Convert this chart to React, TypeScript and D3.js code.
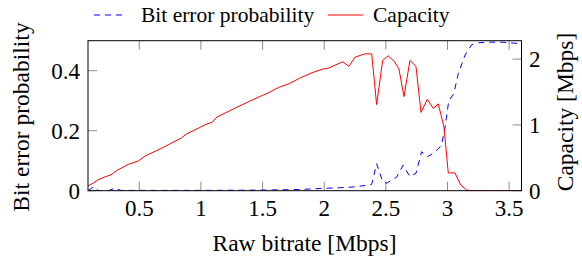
import React from "react";
import * as d3 from "d3";

const capX = [0.084, 0.13, 0.16, 0.22, 0.27, 0.32, 0.41, 0.49, 0.55, 0.68, 0.84, 0.88, 0.98, 1.03, 1.09, 1.13, 1.26, 1.40, 1.56, 1.63, 1.72, 1.80, 1.91, 1.99, 2.03, 2.15, 2.20, 2.25, 2.33, 2.385, 2.425, 2.474, 2.519, 2.566, 2.606, 2.647, 2.695, 2.744, 2.785, 2.836, 2.885, 2.925, 2.971, 3.006, 3.06, 3.107, 3.155, 3.2, 3.6];
const capY = [0.07, 0.12, 0.16, 0.21, 0.24, 0.31, 0.40, 0.45, 0.53, 0.645, 0.80, 0.86, 0.95, 1.0, 1.04, 1.12, 1.24, 1.365, 1.50, 1.57, 1.63, 1.71, 1.80, 1.85, 1.86, 1.96, 1.89, 2.03, 2.08, 2.08, 1.31, 1.98, 2.05, 1.97, 1.85, 1.43, 1.98, 1.89, 1.19, 1.39, 1.25, 1.32, 0.97, 0.27, 0.27, 0.087, 0.01, 0, 0];

const berX = [0.084, 0.13, 0.17, 0.25, 0.30, 0.35, 0.5, 1.0, 1.5, 1.8, 2.0, 2.13, 2.26, 2.385, 2.425, 2.474, 2.506, 2.587, 2.64, 2.695, 2.744, 2.79, 2.836, 2.885, 2.925, 2.95, 2.98, 3.01, 3.05, 3.087, 3.142, 3.196, 3.25, 3.33, 3.45, 3.6];
const berY = [0, 0.013, 0.0, 0.0, 0.008, 0.001, 0.001, 0.001, 0.002, 0.004, 0.008, 0.01, 0.013, 0.021, 0.09, 0.03, 0.025, 0.045, 0.085, 0.047, 0.058, 0.13, 0.113, 0.125, 0.14, 0.15, 0.21, 0.30, 0.322, 0.39, 0.452, 0.487, 0.493, 0.495, 0.495, 0.49];

const xTicks = [0.5, 1, 1.5, 2, 2.5, 3, 3.5];
const leftTicks = [0, 0.2, 0.4];
const rightTicks = [0, 1, 2];

const W = 582, H = 258;
const L = 88, R = 521.5, T = 40.7, B = 190.7;
const TICK = 9;

function Txt(props: any) {
  const { children, size, ...rest } = props;
  return (
    <text {...rest} style={{ fontFamily: "Liberation Serif", fontSize: size }}>{children}</text>
  );
}

export default function App() {
  const x = d3.scaleLinear().domain([0.084, 3.6]).range([L, R]);
  const yL = d3.scaleLinear().domain([0, 0.5]).range([B, T]);
  const yR = d3.scaleLinear().domain([0, 2.28]).range([B, T]);
  const capLine = d3.line<number>().x((_, i) => x(capX[i])).y((d) => yR(d))(capY) || "";
  const berLine = d3.line<number>().x((_, i) => x(berX[i])).y((d) => yL(d))(berY) || "";
  const tickColor = "#8c8c8c";
  const TS = 23;
  const AS = 23.5;
  const LS = 21.5;
  return (
    <svg width={W} height={H} style={{ position: "absolute", left: 0, top: 0 }}>
      <defs>
        <clipPath id="plot">
          <rect x={L} y={T} width={R - L} height={B - T} />
        </clipPath>
      </defs>
      <rect width={W} height={H} fill="#fff" />
      {xTicks.map((t) => (
        <g key={"x" + t}>
          <line x1={x(t)} x2={x(t)} y1={B} y2={B - TICK} stroke={tickColor} strokeWidth={1} />
          <line x1={x(t)} x2={x(t)} y1={T} y2={T + TICK} stroke={tickColor} strokeWidth={1} />
          <Txt x={x(t)} y={216} textAnchor="middle" size={TS}>{t}</Txt>
        </g>
      ))}
      {leftTicks.map((t) => (
        <g key={"l" + t}>
          <line x1={L} x2={L + TICK} y1={yL(t)} y2={yL(t)} stroke={tickColor} strokeWidth={1} />
          <Txt x={80} y={yL(t) + 8} textAnchor="end" size={TS}>{t}</Txt>
        </g>
      ))}
      {rightTicks.map((t) => (
        <g key={"r" + t}>
          <line x1={R} x2={R - TICK} y1={yR(t)} y2={yR(t)} stroke={tickColor} strokeWidth={1} />
          <Txt x={529} y={yR(t) + 8} textAnchor="start" size={TS}>{t}</Txt>
        </g>
      ))}
      <g clipPath="url(#plot)">
        <path d={berLine} fill="none" stroke="#0000ff" strokeWidth={1} strokeDasharray="6 5" />
        <path d={capLine} fill="none" stroke="#ff0000" strokeWidth={1} />
      </g>
      <rect x={L} y={T} width={R - L} height={B - T} fill="none" stroke="#000" strokeWidth={1} />
      <Txt x={304.5} y={251} textAnchor="middle" size={AS}>Raw bitrate [Mbps]</Txt>
      <Txt transform={`translate(29, 117) rotate(-90)`} textAnchor="middle" size={AS}>Bit error probability</Txt>
      <Txt transform={`translate(573, 112) rotate(-90)`} textAnchor="middle" size={AS}>Capacity [Mbps]</Txt>
      <line x1={94} x2={126} y1={15} y2={15} stroke="#0000ff" strokeWidth={1} strokeDasharray="6 5" />
      <Txt x={141} y={22} size={LS}>Bit error probability</Txt>
      <line x1={328} x2={363} y1={15} y2={15} stroke="#ff0000" strokeWidth={1} />
      <Txt x={373} y={22} size={LS}>Capacity</Txt>
    </svg>
  );
}
